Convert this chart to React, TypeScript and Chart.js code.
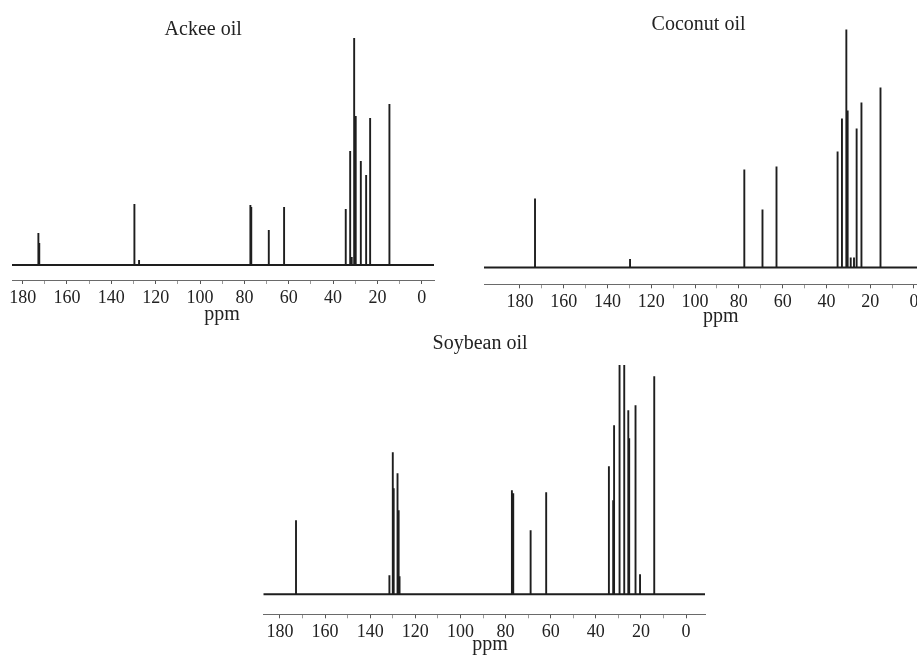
import React, { useEffect, useRef } from "react";
import { Chart, registerables } from "chart.js";

Chart.register(...registerables);

// Axis ticks (ppm)
const TICK_VALUES = [180, 170, 160, 150, 140, 130, 120, 110, 100, 90, 80, 70, 60, 50, 40, 30, 20, 10, 0];
const TICK_LABELS = [180, 160, 140, 120, 100, 80, 60, 40, 20, 0];

// Ackee oil: chemical shifts (ppm) and peak intensities
const ACKEE_PPM = [172.9, 172.5, 129.6, 127.5, 77.3, 76.9, 69.0, 62.1, 34.3, 32.3, 31.6, 30.5, 29.8, 27.5, 25.1, 23.3, 14.6];
const ACKEE_INT = [32, 22, 61, 5, 60, 58, 35, 58, 56, 114, 8, 227, 149, 104, 90, 147, 161];

// Coconut oil
const COCONUT_PPM = [173.1, 129.7, 77.5, 69.2, 62.8, 34.9, 32.9, 30.9, 30.3, 28.9, 27.4, 26.2, 24.0, 15.3];
const COCONUT_INT = [69, 8.5, 98, 58, 101, 116, 149, 238, 157, 10, 10, 139, 165, 180];

// Soybean oil
const SOY_PPM = [172.9, 131.5, 130.0, 129.6, 127.9, 127.4, 127.0, 77.2, 76.6, 68.9, 62.0, 34.2, 32.3, 31.9, 29.6, 29.4, 27.4, 25.6, 25.2, 22.4, 20.4, 14.1];
const SOY_INT = [74, 19, 142, 106, 121, 84, 18, 104, 101, 64, 102, 128, 94, 169, 250, 206, 250, 184, 156, 189, 20, 218];

const FONT = '"Liberation Serif", "Times New Roman", serif';

const textPlugin = {
  id: "spectrumText",
  afterDraw(chart: any, _args: any, opts: any) {
    const ctx = chart.ctx;
    const xs = chart.scales.x;
    ctx.save();
    ctx.fillStyle = "#222";
    ctx.textAlign = "center";
    ctx.textBaseline = "alphabetic";
    ctx.font = `${opts.titleSize}px ${FONT}`;
    ctx.fillText(opts.title, xs.getPixelForValue(opts.titleAt), opts.titleBase);
    ctx.font = `${opts.unitSize}px ${FONT}`;
    ctx.fillText("ppm", xs.getPixelForValue(opts.unitAt), opts.unitBase);
    ctx.restore();
  },
};

type SpecProps = {
  ppm: number[];
  ints: number[];
  xMin: number;
  xMax: number;
  yMin: number;
  yMax: number;
  title: string;
  titleAt: number;
  titleBase: number;
  unitAt: number;
  unitBase: number;
  left: number;
  top: number;
  width: number;
  height: number;
  pad: { left: number; right: number; top: number };
  band: number;
};

function Spectrum(p: SpecProps) {
  const ref = useRef<HTMLCanvasElement | null>(null);
  useEffect(() => {
    if (!ref.current) return;
    const order = p.ppm.map((v, i) => i).sort((a, b) => p.ppm[b] - p.ppm[a]);
    const pts: { x: number; y: number }[] = [{ x: p.xMax, y: 0 }];
    order.forEach((i) => {
      pts.push({ x: p.ppm[i], y: 0 });
      pts.push({ x: p.ppm[i], y: p.ints[i] });
      pts.push({ x: p.ppm[i], y: 0 });
    });
    pts.push({ x: p.xMin, y: 0 });

    const chart = new Chart(ref.current, {
      type: "line",
      data: {
        datasets: [
          {
            data: pts,
            borderColor: "#1e1e1e",
            borderWidth: 1.9,
            pointRadius: 0,
            tension: 0,
            fill: false,
          },
        ],
      },
      options: {
        animation: false,
        responsive: false,
        maintainAspectRatio: false,
        layout: { padding: { left: p.pad.left, right: p.pad.right, top: p.pad.top, bottom: 0 } },
        plugins: {
          legend: { display: false },
          tooltip: { enabled: false },
          spectrumText: {
            title: p.title,
            titleAt: p.titleAt,
            titleBase: p.titleBase,
            titleSize: 20,
            unitAt: p.unitAt,
            unitBase: p.unitBase,
            unitSize: 20,
          },
        } as any,
        scales: {
          x: {
            type: "linear",
            reverse: true,
            min: p.xMin,
            max: p.xMax,
            afterBuildTicks: (s: any) => {
              s.ticks = TICK_VALUES.map((v) => ({ value: v }));
            },
            afterFit: (s: any) => {
              s.height = p.band;
            },
            ticks: {
              autoSkip: false,
              maxRotation: 0,
              padding: 3,
              color: "#222",
              font: { family: FONT, size: 18 },
              callback: (v: any) => (TICK_LABELS.includes(Number(v)) ? String(v) : ""),
            },
            grid: {
              drawOnChartArea: false,
              drawTicks: true,
              tickLength: 4,
              color: (c: any) => (c.tick && TICK_LABELS.includes(c.tick.value) ? "#555" : "#999"),
            },
            border: { display: true, color: "#6a6a6a", width: 1 },
          },
          y: { display: false, min: p.yMin, max: p.yMax },
        },
      },
      plugins: [textPlugin],
    } as any);
    return () => chart.destroy();
  }, []);
  return (
    <canvas
      ref={ref}
      width={p.width}
      height={p.height}
      style={{ position: "absolute", left: p.left, top: p.top, width: p.width, height: p.height }}
    />
  );
}

export default function App() {
  return (
    <div
      style={{
        position: "fixed",
        left: 0,
        top: 0,
        width: 917,
        height: 659,
        overflow: "hidden",
        background: "#fff",
      }}
    >
      <Spectrum
        ppm={ACKEE_PPM}
        ints={ACKEE_INT}
        xMin={-5.5}
        xMax={184.8}
        yMin={-15}
        yMax={240}
        title="Ackee oil"
        titleAt={98.6}
        titleBase={35}
        unitAt={90.1}
        unitBase={320}
        left={0}
        top={0}
        width={450}
        height={330}
        pad={{ left: 12, right: 16, top: 25 }}
        band={50}
      />
      <Spectrum
        ppm={COCONUT_PPM}
        ints={COCONUT_INT}
        xMin={-20.1}
        xMax={196.4}
        yMin={-16.8}
        yMax={250}
        title="Coconut oil"
        titleAt={98.4}
        titleBase={29.5}
        unitAt={88.3}
        unitBase={322}
        left={460}
        top={0}
        width={500}
        height={330}
        pad={{ left: 24, right: 2, top: 17.5 }}
        band={45.7}
      />
      <Spectrum
        ppm={SOY_PPM}
        ints={SOY_INT}
        xMin={-8.4}
        xMax={187.4}
        yMin={-20}
        yMax={229.3}
        title="Soybean oil"
        titleAt={91.3}
        titleBase={19}
        unitAt={86.9}
        unitBase={320}
        left={240}
        top={330}
        width={480}
        height={329}
        pad={{ left: 23.3, right: 15, top: 35 }}
        band={44.7}
      />
    </div>
  );
}
